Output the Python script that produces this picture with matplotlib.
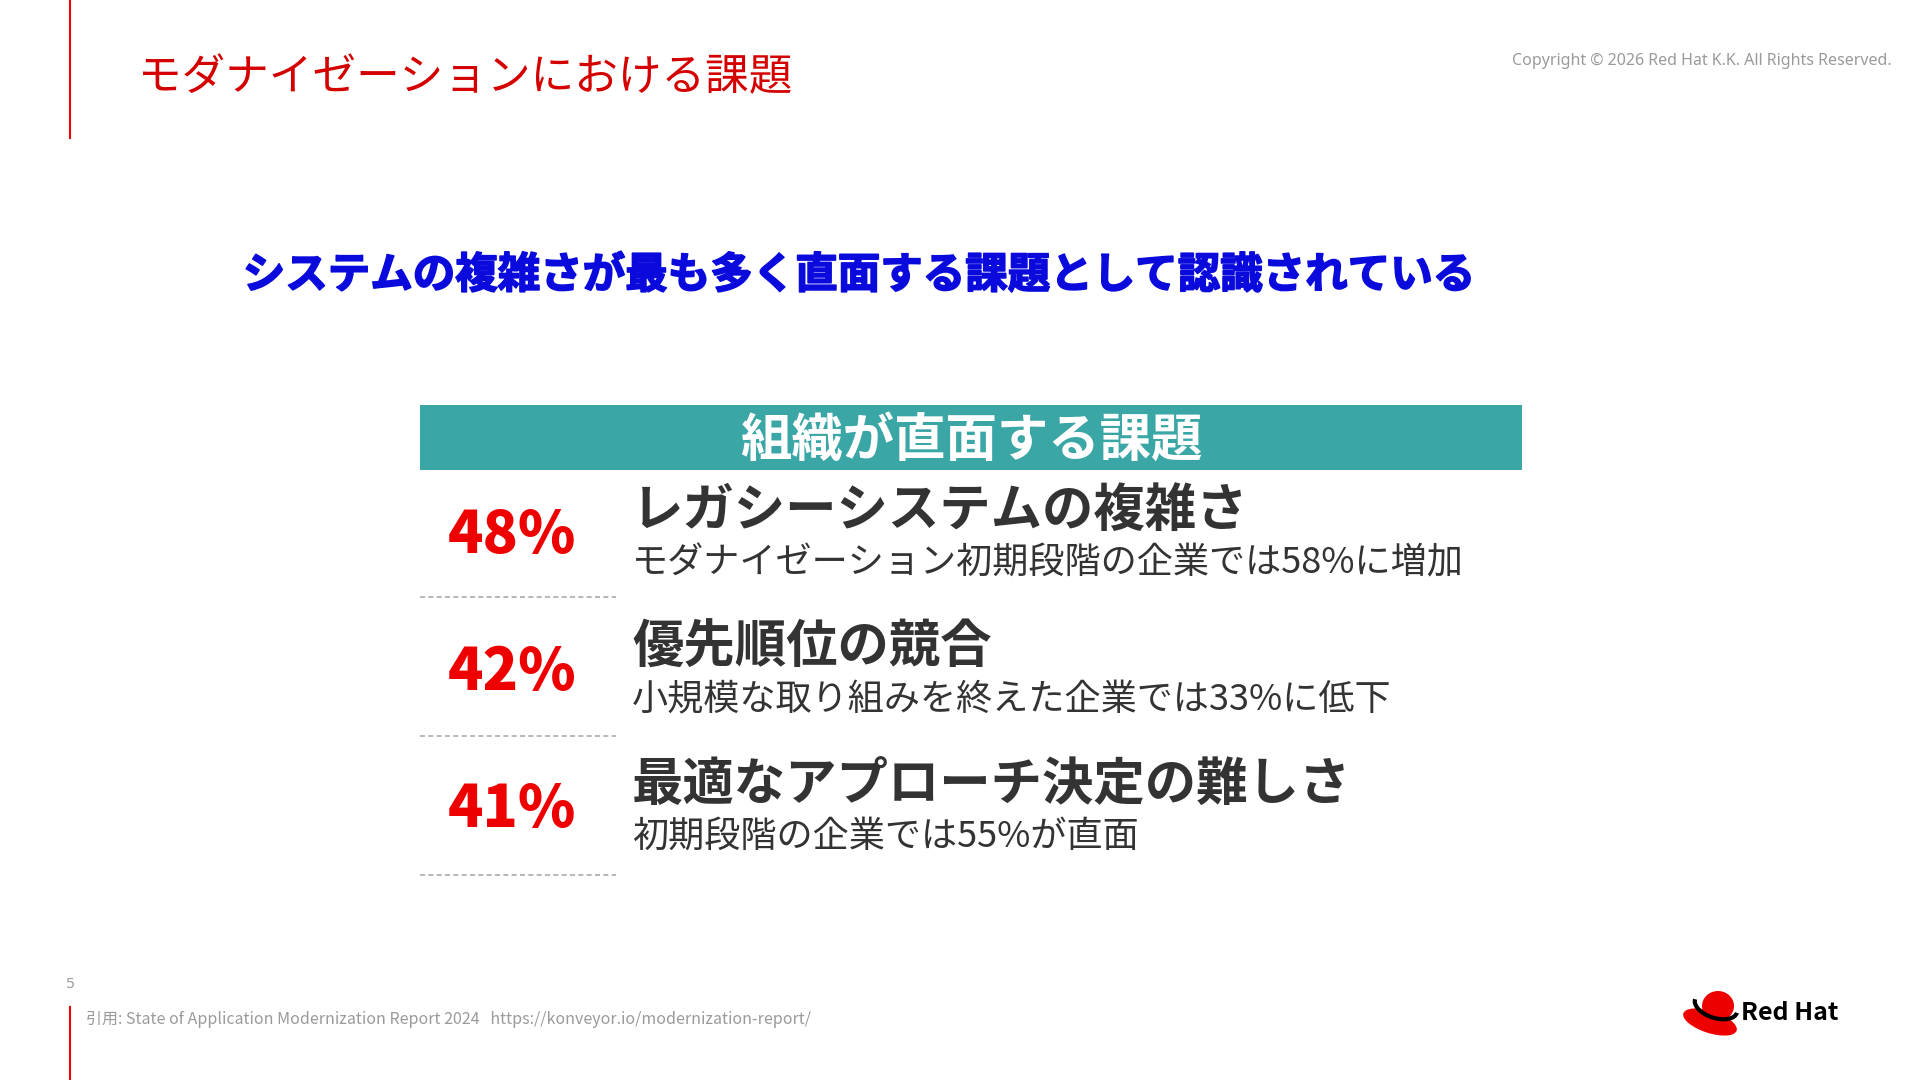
import matplotlib
matplotlib.use("Agg")
import matplotlib.pyplot as plt
from matplotlib import patches
import matplotlib.patheffects as pe

plt.rcParams['font.family'] = ['Noto Sans CJK JP', 'DejaVu Sans']

# slide texts and values
title = 'モダナイゼーションにおける課題'
subtitle = 'システムの複雑さが最も多く直面する課題として認識されている'
header = '組織が直面する課題'
percents = [48, 42, 41]
challenges = ['レガシーシステムの複雑さ', '優先順位の競合', '最適なアプローチ決定の難しさ']
notes = ['モダナイゼーション初期段階の企業では58%に増加',
         '小規模な取り組みを終えた企業では33%に低下',
         '初期段階の企業では55%が直面']
copyright_text = 'Copyright © 2026 Red Hat K.K. All Rights Reserved.'
source_text = '引用: State of Application Modernization Report 2024   https://konveyor.io/modernization-report/'
page_no = '5'

RED = '#EE0000'
TEAL = '#3AA6A5'
DARK = '#333333'
GRAY = '#9A9A9A'

fig = plt.figure(figsize=(19.2, 10.8), dpi=100)
ax = fig.add_axes([0, 0, 1, 1])
ax.set_xlim(0, 1920)
ax.set_ylim(1080, 0)
ax.axis('off')

# accent lines on the left edge
ax.plot([70, 70], [0, 138], color=RED, lw=1.5)
ax.plot([70, 70], [1007, 1080], color=RED, lw=1.5)

# header texts
ax.text(138, 78, title, color='#D40000', fontsize=31.4, va='center', ha='left')
ax.text(1892, 61, copyright_text, color=GRAY, fontsize=11.5, va='center', ha='right',
        family=['Noto Sans', 'DejaVu Sans'])
ax.text(859, 275, subtitle, color='#0A0ADC', fontsize=30.6, va='center', ha='center',
        weight='bold', path_effects=[pe.withStroke(linewidth=1.2, foreground='#0A0ADC')])

# teal bar
ax.add_patch(patches.Rectangle((420, 405), 1102, 65, color=TEAL, lw=0))
ax.text(971, 440, header, color='white', fontsize=37, weight='bold', va='center', ha='center')

# rows
for i, (p, c, n) in enumerate(zip(percents, challenges, notes)):
    y = 533 + i * 137
    ax.text(448, y + 3, f'{p}%', color=RED, fontsize=42, weight='black', va='center',
            ha='left')
    ax.text(632, y - 23, c, color=DARK, fontsize=37, weight='bold', va='center', ha='left')
    ax.text(632, y + 30, n, color=DARK, fontsize=26, va='center', ha='left')
    ax.plot([420, 616], [y + 64 + 2 * i, y + 64 + 2 * i], color='#AAAAAA', lw=1.2,
            ls=(0, (3, 2)))

# footer
ax.text(70, 984, page_no, color=GRAY, fontsize=11, va='center', ha='center',
        family=['Noto Sans', 'DejaVu Sans'])
ax.text(86, 1020, source_text, color=GRAY, fontsize=11.5, va='center', ha='left')

# Red Hat logo
ax.add_patch(patches.Ellipse((1710, 1022), 56, 22, angle=18, color=RED, lw=0))
ax.add_patch(patches.Ellipse((1718, 1006), 32, 30, color=RED, lw=0))
ax.add_patch(patches.Arc((1716, 1006), 44, 24, angle=18, theta1=0, theta2=180,
                         color='black', lw=3))
ax.text(1741, 1013, 'Red Hat', color='black', fontsize=18, weight='bold', va='center',
        ha='left')

fig.savefig('out.png', dpi=100, facecolor='white')
